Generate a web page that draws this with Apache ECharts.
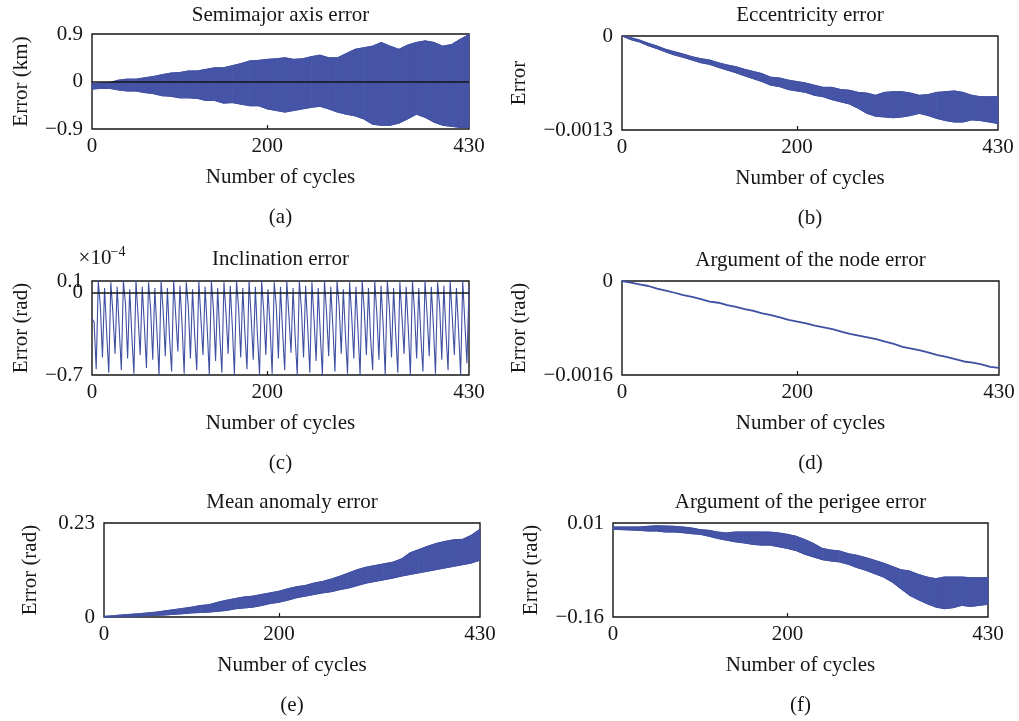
<!DOCTYPE html>
<html>
<head>
<meta charset="utf-8">
<script src="https://cdn.jsdelivr.net/npm/echarts@6/dist/echarts.min.js"></script>
<style>
  html, body { margin: 0; background: #fff; }
  #chart { width: 1019px; height: 721px; }
</style>
</head>
<body>
<div id="chart"></div>
<script>
// sample grid (number of cycles)
const cycles = [0,10,20,30,40,50,60,70,80,90,100,110,120,130,140,150,160,170,180,190,
  200,210,220,230,240,250,260,270,280,290,300,310,320,330,340,350,360,370,380,390,
  400,410,420,430];

// (a) semimajor axis error, km: upper / lower envelope
const semiHi = [-0.04,-0.03,-0.02,0.025,0.045,0.045,0.07,0.095,0.13,0.16,
  0.17,0.2,0.2,0.23,0.26,0.26,0.3,0.34,0.39,0.4,
  0.42,0.43,0.45,0.42,0.43,0.47,0.5,0.45,0.45,0.53,
  0.61,0.64,0.67,0.74,0.67,0.61,0.69,0.74,0.77,0.74,
  0.67,0.7,0.8,0.89];
const semiLo = [-0.145,-0.13,-0.13,-0.16,-0.18,-0.18,-0.21,-0.23,-0.27,-0.28,
  -0.31,-0.31,-0.32,-0.36,-0.36,-0.41,-0.4,-0.43,-0.46,-0.46,
  -0.52,-0.55,-0.58,-0.55,-0.52,-0.49,-0.47,-0.52,-0.58,-0.62,
  -0.65,-0.71,-0.81,-0.83,-0.83,-0.79,-0.71,-0.62,-0.68,-0.77,
  -0.83,-0.85,-0.87,-0.87];

// (b) eccentricity error
const eccHi = [0,-0.000023,-0.000055,-0.0001,-0.000138,-0.000184,-0.000217,-0.00025,-0.000286,-0.000313,
  -0.000332,-0.000369,-0.0004,-0.000424,-0.00046,-0.00049,-0.00052,-0.00057,-0.00058,-0.00061,
  -0.00063,-0.00065,-0.00068,-0.00071,-0.00071,-0.00074,-0.00075,-0.00078,-0.00079,-0.00082,
  -0.00078,-0.00077,-0.00077,-0.00079,-0.00082,-0.00081,-0.00078,-0.00077,-0.00076,-0.00078,
  -0.00082,-0.00084,-0.00084,-0.00084];
const eccLo = [0,-0.00005,-0.000083,-0.000134,-0.000175,-0.000221,-0.000263,-0.000295,-0.000332,-0.000369,
  -0.000392,-0.000433,-0.00047,-0.000507,-0.00055,-0.00059,-0.00063,-0.00068,-0.0007,-0.00074,
  -0.00076,-0.00078,-0.00082,-0.00084,-0.00088,-0.00091,-0.00094,-0.001,-0.00107,-0.00111,
  -0.00112,-0.00113,-0.00112,-0.0011,-0.00107,-0.0011,-0.00114,-0.00117,-0.00119,-0.00119,
  -0.00116,-0.00117,-0.00119,-0.00121];

// (c) inclination error, x1e-4 rad: each period = shoulder, trough, peak
const incShoulders = [-0.25,-0.12,-0.34,-0.18,-0.3,-0.1,-0.36,-0.2,-0.28,-0.14,
  -0.33,-0.16,-0.38,-0.2,-0.27,-0.12,-0.35,-0.22,-0.3,-0.15,
  -0.36,-0.18,-0.29,-0.13,-0.34,-0.21,-0.37,-0.16,-0.28,-0.12,
  -0.33,-0.19,-0.38,-0.14,-0.3,-0.22,-0.35,-0.17,-0.29,-0.11,
  -0.36,-0.2,-0.32,-0.15,-0.38,-0.18,-0.27,-0.13,-0.35,-0.21,
  -0.3,-0.16,-0.37,-0.19,-0.28,-0.12,-0.34,-0.2,-0.31,-0.25];
const incTroughs = [-0.65,-0.55,-0.68,-0.52,-0.66,-0.56,-0.69,-0.53,-0.64,-0.57,
  -0.7,-0.54,-0.67,-0.5,-0.69,-0.56,-0.66,-0.53,-0.7,-0.58,
  -0.68,-0.52,-0.7,-0.55,-0.65,-0.57,-0.7,-0.53,-0.69,-0.56,
  -0.66,-0.51,-0.7,-0.55,-0.68,-0.58,-0.7,-0.54,-0.67,-0.52,
  -0.69,-0.56,-0.7,-0.53,-0.66,-0.57,-0.7,-0.55,-0.68,-0.52,
  -0.7,-0.56,-0.67,-0.54,-0.69,-0.57,-0.66,-0.53,-0.7,-0.6];
const incPeaks = [0.1,0.04,0.09,0.05,0.1,0.03,0.1,0.05,0.09,0.04,
  0.1,0.04,0.1,0.06,0.09,0.03,0.1,0.05,0.1,0.04,
  0.09,0.06,0.1,0.04,0.1,0.05,0.1,0.03,0.09,0.05,
  0.1,0.04,0.1,0.06,0.09,0.04,0.1,0.05,0.1,0.03,
  0.09,0.05,0.1,0.04,0.1,0.06,0.1,0.04,0.09,0.05,
  0.1,0.04,0.1,0.05,0.09,0.06,0.1,0.04,0.1,0.05];
const incStart = -0.22;

// (d) argument of the node error, rad
const nodeErr = [0,-0.000028,-0.000057,-0.000085,-0.00013,-0.000164,-0.0002,-0.00024,-0.00027,-0.00031,
  -0.00035,-0.00037,-0.00041,-0.00044,-0.00048,-0.00051,-0.00055,-0.00058,-0.00062,-0.00066,
  -0.00069,-0.00072,-0.00076,-0.00079,-0.00082,-0.00086,-0.0009,-0.00093,-0.00096,-0.00099,
  -0.00103,-0.00107,-0.00112,-0.00115,-0.00118,-0.00122,-0.00126,-0.00129,-0.00133,-0.00137,
  -0.00139,-0.00142,-0.00146,-0.00148];

// (e) mean anomaly error, rad
const meanHi = [0.0016,0.003,0.005,0.0065,0.008,0.01,0.012,0.015,0.018,0.021,
  0.024,0.028,0.03,0.036,0.041,0.045,0.049,0.051,0.055,0.059,
  0.063,0.069,0.074,0.077,0.083,0.087,0.093,0.1,0.108,0.116,
  0.122,0.126,0.13,0.134,0.142,0.157,0.165,0.173,0.18,0.185,
  0.189,0.19,0.2,0.215];
const meanLo = [0,0,0.001,0.0016,0.0025,0.003,0.004,0.005,0.0065,0.008,
  0.01,0.011,0.012,0.014,0.016,0.02,0.022,0.024,0.028,0.033,
  0.036,0.041,0.047,0.051,0.055,0.059,0.062,0.067,0.071,0.077,
  0.083,0.087,0.091,0.095,0.1,0.104,0.108,0.112,0.116,0.12,
  0.124,0.128,0.132,0.139];

// (f) argument of the perigee error, rad
const perHi = [0.0028,0.0028,0.0028,0.0028,0.004,0.005,0.0046,0.004,0.0028,0.001,
  -0.002,-0.0033,-0.0063,-0.008,-0.0063,-0.0063,-0.0063,-0.0063,-0.0065,-0.008,
  -0.0105,-0.014,-0.02,-0.027,-0.036,-0.039,-0.0406,-0.0455,-0.0485,-0.0527,
  -0.0575,-0.0624,-0.0684,-0.0744,-0.0768,-0.0829,-0.0877,-0.0907,-0.0877,-0.0877,
  -0.0877,-0.089,-0.089,-0.089];
const perLo = [-0.0015,-0.002,-0.0027,-0.0033,-0.0045,-0.0045,-0.0063,-0.0063,-0.0075,-0.0093,
  -0.0105,-0.014,-0.018,-0.021,-0.024,-0.026,-0.0286,-0.03,-0.03,-0.033,
  -0.036,-0.04,-0.0467,-0.0515,-0.0563,-0.0587,-0.0605,-0.0648,-0.0708,-0.0756,
  -0.0817,-0.0877,-0.0967,-0.1088,-0.1208,-0.1287,-0.1359,-0.142,-0.145,-0.1432,
  -0.139,-0.141,-0.139,-0.137];

const xTicks = [0, 200, 430];
const titles = ['Semimajor axis error', 'Eccentricity error', 'Inclination error',
  'Argument of the node error', 'Mean anomaly error', 'Argument of the perigee error'];
const yNames = ['Error (km)', 'Error', 'Error (rad)', 'Error (rad)', 'Error (rad)', 'Error (rad)'];
const yRanges = [[-0.9, 0.9], [-0.0013, 0], [-0.7, 0.1], [-0.0016, 0], [0, 0.23], [-0.16, 0.01]];
const yTicks = [[-0.9, 0, 0.9], [-0.0013, 0], [-0.7, 0.1], [-0.0016, 0], [0, 0.23], [-0.16, 0.01]];
const incZeroTick = [0];
const tags = ['(a)', '(b)', '(c)', '(d)', '(e)', '(f)'];

const FONT = 'Liberation Serif';
const FS = 21;
const BLUE = '#3f4fa2';
const FILL = '#4554a6';
const INK = '#161616';

const boxes = [
  { left: 92, top: 34, width: 377, height: 95, nameGap: 60 },
  { left: 622, top: 36, width: 376, height: 94, nameGap: 92 },
  { left: 92, top: 281, width: 377, height: 94, nameGap: 60 },
  { left: 622, top: 281, width: 377, height: 94, nameGap: 92 },
  { left: 104, top: 523, width: 376, height: 94, nameGap: 63 },
  { left: 613, top: 523, width: 375, height: 94, nameGap: 71 }
];

const minus = v => String(v).replace('-', '\u2212');

const grids = boxes.map(b => ({
  left: b.left, top: b.top, width: b.width, height: b.height,
  show: true, borderColor: INK, borderWidth: 1.4, backgroundColor: 'transparent'
}));

const xAxes = boxes.map((b, i) => ({
  type: 'value', gridIndex: i, min: 0, max: 430,
  name: 'Number of cycles', nameLocation: 'middle', nameGap: 38,
  nameTextStyle: { fontFamily: FONT, fontSize: FS, color: INK },
  axisLine: { show: false, onZero: false },
  axisTick: { show: true, inside: true, length: 4, customValues: [200], lineStyle: { color: INK, width: 1.2 } },
  axisLabel: { customValues: xTicks, showMinLabel: true, showMaxLabel: true, margin: 7,
    fontFamily: FONT, fontSize: FS, color: INK },
  splitLine: { show: false }
}));

const yLabel = ticks => ({
  customValues: ticks, showMinLabel: true, showMaxLabel: true,
  margin: 9, fontFamily: FONT, fontSize: FS, color: INK, formatter: minus
});

const yAxes = boxes.map((b, i) => ({
  type: 'value', gridIndex: i, min: yRanges[i][0], max: yRanges[i][1],
  name: yNames[i], nameLocation: 'middle', nameGap: b.nameGap,
  nameTextStyle: { fontFamily: FONT, fontSize: FS, color: INK },
  axisLine: { show: false, onZero: false },
  axisTick: { show: false },
  axisLabel: yLabel(yTicks[i]),
  splitLine: { show: false }
}));
// panel (c): the "0" label sits too close to "0.1" for one axis, so it gets its own overlay axis
yAxes.push({
  type: 'value', gridIndex: 2, position: 'left', min: yRanges[2][0], max: yRanges[2][1],
  axisLine: { show: false, onZero: false }, axisTick: { show: false },
  axisLabel: yLabel(incZeroTick), splitLine: { show: false }
});

const zeroLine = {
  silent: true, symbol: 'none', label: { show: false },
  lineStyle: { color: INK, width: 1.5, type: 'solid' },
  data: [{ yAxis: 0 }]
};

// envelope band: one quad per pair of neighbouring samples, placed by the axes
function band(gi, lo, hi, withZero) {
  const segs = cycles.slice(0, -1).map((c, k) => [c, lo[k], hi[k], cycles[k + 1], lo[k + 1], hi[k + 1]]);
  const edge = arr => ({
    type: 'line', xAxisIndex: gi, yAxisIndex: gi, symbol: 'none', silent: true, animation: false,
    data: cycles.map((c, k) => [c, arr[k]]), lineStyle: { color: BLUE, width: 1 }
  });
  const hiEdge = edge(hi);
  if (withZero) hiEdge.markLine = zeroLine;
  return [{
    type: 'custom', xAxisIndex: gi, yAxisIndex: gi, silent: true, animation: false,
    data: segs,
    encode: { x: [0, 3], y: [1, 2, 4, 5] },
    renderItem: (params, api) => {
      const a = api.coord([api.value(0), api.value(1)]);
      const b = api.coord([api.value(3), api.value(4)]);
      const c = api.coord([api.value(3), api.value(5)]);
      const d = api.coord([api.value(0), api.value(2)]);
      return { type: 'polygon', shape: { points: [a, b, c, d] }, style: { fill: FILL, stroke: FILL, lineWidth: 0.8 } };
    }
  }, edge(lo), hiEdge];
}

// inclination: shoulder, trough, peak per period on a uniform cycle grid
const incVals = [incStart];
incTroughs.forEach((t, k) => { incVals.push(incShoulders[k], t, incPeaks[k]); });
const incData = incVals.map((v, k) => [k * 430 / (incVals.length - 1), v]);

const series = [].concat(
  band(0, semiLo, semiHi, true),
  band(1, eccLo, eccHi, false),
  [{
    type: 'line', xAxisIndex: 2, yAxisIndex: 2, data: incData, symbol: 'none',
    silent: true, animation: false, lineStyle: { color: BLUE, width: 1.1 }, markLine: zeroLine
  }, {
    type: 'line', xAxisIndex: 3, yAxisIndex: 3, data: cycles.map((c, k) => [c, nodeErr[k]]),
    symbol: 'none', silent: true, animation: false, lineStyle: { color: BLUE, width: 1.8 }
  }],
  band(4, meanLo, meanHi, false),
  band(5, perLo, perHi, false)
);

const txt = (x, y, text, size) => ({
  type: 'text', x: x, y: y, silent: true,
  style: { text: text, fill: INK, fontFamily: FONT, fontSize: size || FS, align: 'center', verticalAlign: 'middle' }
});

const titleY = [15, 15, 259, 260, 502, 502];
const graphics = [];
boxes.forEach((b, i) => {
  const cx = b.left + b.width / 2;
  graphics.push(txt(cx, titleY[i], titles[i]));
  graphics.push(txt(cx, b.top + b.height + 88, tags[i]));
});
graphics.push(txt(95, 258, '\u00d710'));
graphics.push(txt(118, 252, '\u22124', 14));

const chart = echarts.init(document.getElementById('chart'));
chart.setOption({
  backgroundColor: '#fff',
  animation: false,
  grid: grids,
  xAxis: xAxes,
  yAxis: yAxes,
  series: series,
  graphic: graphics
});
</script>
</body>
</html>
